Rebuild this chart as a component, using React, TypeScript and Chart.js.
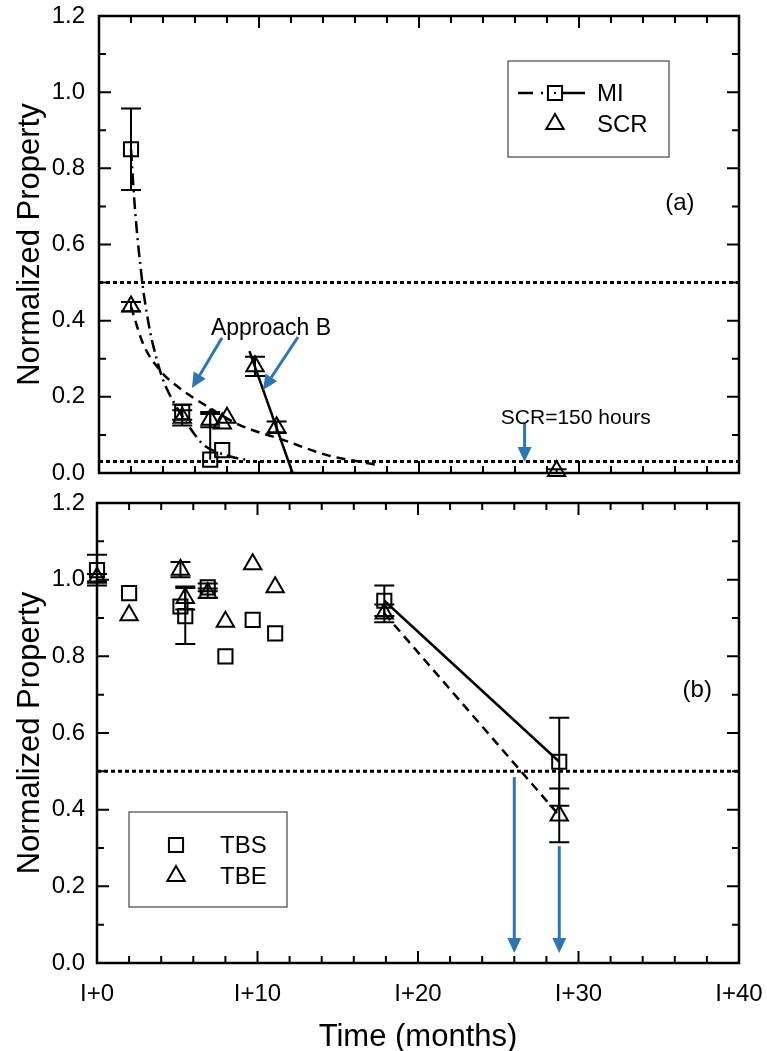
import React, { useEffect, useRef } from 'react';
import { Chart, registerables } from 'chart.js';

Chart.register(...registerables);

const FONT = "'Liberation Sans', Arial, Helvetica, sans-serif";
const BLUE = '#2E75B6';

// ---------- axis ----------
const X_MIN = 0;
const X_MAX = 40;
const X_LABEL_PREFIX = 'I+';
const Y_MIN = 0;
const Y_MAX = 1.2;

// ---------- panel (a) ----------
const miX = [2.0, 5.2, 6.95, 7.7];
const miY = [0.85, 0.16, 0.035, 0.06];
const miErrUp = [0.107, 0.02, 0.12, 0];
const miErrDown = [0.107, 0.02, 0, 0];

const scrX = [2.0, 5.2, 6.95, 7.7, 8.0, 9.75, 11.1, 28.6];
const scrY = [0.437, 0.145, 0.14, 0.13, 0.145, 0.28, 0.12, 0.005];
const scrErrUp = [0.012, 0.02, 0.02, 0.0, 0, 0.025, 0.015, 0.005];
const scrErrDown = [0.012, 0.02, 0.02, 0.0, 0, 0.025, 0.015, 0.005];

const miFitX = [2.0, 2.2, 2.4, 2.6, 2.8, 3.2, 3.6, 4.0, 4.75, 5.5, 6.0, 6.5, 7.5, 8.5, 9.3];
const miFitY = [0.85, 0.72, 0.62, 0.54, 0.47, 0.37, 0.30, 0.245, 0.18, 0.13, 0.10, 0.075, 0.053, 0.04, 0.034];

const scrFitX = [2.0, 2.75, 3.8, 5.06, 6.8, 8.8, 11.5, 14.25, 16.75, 17.5];
const scrFitY = [0.437, 0.34, 0.27, 0.222, 0.174, 0.126, 0.087, 0.047, 0.026, 0.02];

const approachBX = [9.4, 12.1];
const approachBY = [0.32, 0.0];

const thresholdsA = [0.5, 0.03];

// ---------- panel (b) ----------
const tbsX = [0, 2.0, 5.2, 5.5, 6.9, 8.0, 9.7, 11.1, 17.9, 28.8];
const tbsY = [1.025, 0.965, 0.93, 0.905, 0.98, 0.80, 0.895, 0.86, 0.945, 0.525];
const tbsErr = [0.04, 0, 0, 0.073, 0.01, 0, 0, 0, 0.04, 0.115];

const tbeX = [0, 2.0, 5.2, 5.5, 6.9, 8.0, 9.7, 11.1, 17.9, 28.8];
const tbeY = [1.005, 0.907, 1.026, 0.952, 0.965, 0.89, 1.04, 0.98, 0.912, 0.385];
const tbeErr = [0.01, 0, 0.02, 0.03, 0.012, 0, 0, 0, 0.023, 0.07];

const tbsTrendX = [17.9, 28.8];
const tbsTrendY = [0.945, 0.525];
const tbeTrendX = [17.9, 28.8];
const tbeTrendY = [0.912, 0.385];

const thresholdsB = [0.5];

// ---------- annotations (data coordinates) ----------
const arrowsA = [
  { from: [7.69, 0.355], to: [5.81, 0.223] },
  { from: [12.44, 0.357], to: [10.25, 0.218] },
  { from: [26.6, 0.131], to: [26.6, 0.029] },
];
const arrowsB = [
  { from: [26.0, 0.485], to: [26.0, 0.026] },
  { from: [28.8, 0.305], to: [28.8, 0.026] },
];
const textsA = [
  { text: 'Approach B', at: [10.75, 0.38], size: 23 },
  { text: 'SCR=150 hours', at: [29.8, 0.144], size: 21 },
  { text: '(a)', at: [36.3, 0.709], size: 24 },
];
const textsB = [{ text: '(b)', at: [37.4, 0.712], size: 24 }];

const zip = (xs: number[], ys: number[]) => xs.map((x, i) => ({ x, y: ys[i] }));

function drawMarker(ctx: CanvasRenderingContext2D, style: string, x: number, y: number, r: number) {
  ctx.beginPath();
  if (style === 'rect') {
    const s = Math.SQRT1_2 * r;
    ctx.rect(x - s, y - s, 2 * s, 2 * s);
  } else {
    ctx.moveTo(x, y - r);
    ctx.lineTo(x + Math.sin(Math.PI * 2 / 3) * r, y - Math.cos(Math.PI * 2 / 3) * r);
    ctx.lineTo(x + Math.sin(Math.PI * 4 / 3) * r, y - Math.cos(Math.PI * 4 / 3) * r);
    ctx.closePath();
  }
  ctx.stroke();
}

function framePlugin() {
  return {
    id: 'frame',
    beforeDatasetsDraw(chart: any) {
      const { ctx, chartArea: a, scales } = chart;
      const xs = scales.x;
      const ys = scales.y;
      ctx.save();
      ctx.strokeStyle = '#000';
      ctx.lineWidth = 2.5;
      ctx.strokeRect(a.left, a.top, a.right - a.left, a.bottom - a.top);
      ctx.lineWidth = 2;
      ctx.beginPath();
      for (let v = X_MIN; v <= X_MAX; v += 2) {
        const px = xs.getPixelForValue(v);
        const len = v % 10 === 0 ? 12 : 7;
        ctx.moveTo(px, a.bottom);
        ctx.lineTo(px, a.bottom - len);
        ctx.moveTo(px, a.top);
        ctx.lineTo(px, a.top + len);
      }
      for (let i = 0; i <= 12; i++) {
        const py = ys.getPixelForValue(i / 10);
        const len = i % 2 === 0 ? 12 : 7;
        ctx.moveTo(a.left, py);
        ctx.lineTo(a.left + len, py);
        ctx.moveTo(a.right, py);
        ctx.lineTo(a.right - len, py);
      }
      ctx.stroke();
      ctx.restore();
    },
  };
}

function errorBarPlugin(sets: { x: number[]; y: number[]; up: number[]; down: number[] }[]) {
  return {
    id: 'errbars',
    afterDatasetsDraw(chart: any) {
      const { ctx, scales } = chart;
      const xs = scales.x;
      const ys = scales.y;
      ctx.save();
      ctx.strokeStyle = '#000';
      ctx.lineWidth = 2;
      sets.forEach((s) =>
        s.x.forEach((xv, i) => {
          const u = s.up[i];
          const d = s.down[i];
          if (!u && !d) return;
          const px = xs.getPixelForValue(xv);
          const pt = ys.getPixelForValue(s.y[i] + u);
          const pb = ys.getPixelForValue(s.y[i] - d);
          ctx.beginPath();
          ctx.moveTo(px, pt);
          ctx.lineTo(px, pb);
          if (u) {
            ctx.moveTo(px - 10, pt);
            ctx.lineTo(px + 10, pt);
          }
          if (d) {
            ctx.moveTo(px - 10, pb);
            ctx.lineTo(px + 10, pb);
          }
          ctx.stroke();
        })
      );
      ctx.restore();
    },
  };
}

function annotationPlugin(arrows: any[], texts: any[]) {
  return {
    id: 'annot',
    afterDatasetsDraw(chart: any) {
      const { ctx, scales } = chart;
      const xs = scales.x;
      const ys = scales.y;
      ctx.save();
      ctx.strokeStyle = BLUE;
      ctx.fillStyle = BLUE;
      ctx.lineWidth = 3;
      arrows.forEach((ar) => {
        const x0 = xs.getPixelForValue(ar.from[0]);
        const y0 = ys.getPixelForValue(ar.from[1]);
        const x1 = xs.getPixelForValue(ar.to[0]);
        const y1 = ys.getPixelForValue(ar.to[1]);
        const ang = Math.atan2(y1 - y0, x1 - x0);
        const hl = 15;
        const hw = 7;
        const bx = x1 - hl * Math.cos(ang);
        const by = y1 - hl * Math.sin(ang);
        ctx.beginPath();
        ctx.moveTo(x0, y0);
        ctx.lineTo(bx, by);
        ctx.stroke();
        ctx.beginPath();
        ctx.moveTo(x1, y1);
        ctx.lineTo(bx + hw * Math.sin(ang), by - hw * Math.cos(ang));
        ctx.lineTo(bx - hw * Math.sin(ang), by + hw * Math.cos(ang));
        ctx.closePath();
        ctx.fill();
      });
      ctx.fillStyle = '#000';
      ctx.textAlign = 'center';
      ctx.textBaseline = 'middle';
      texts.forEach((t) => {
        ctx.font = `${t.size}px ${FONT}`;
        ctx.fillText(t.text, xs.getPixelForValue(t.at[0]), ys.getPixelForValue(t.at[1]));
      });
      ctx.restore();
    },
  };
}

function legendPlugin(box: number[], items: { style: string; label: string; line?: boolean }[], rows: number[], markerX: number, textX: number) {
  return {
    id: 'customLegend',
    afterDraw(chart: any) {
      const { ctx } = chart;
      ctx.save();
      ctx.fillStyle = '#fff';
      ctx.fillRect(box[0], box[1], box[2] - box[0], box[3] - box[1]);
      ctx.strokeStyle = '#555';
      ctx.lineWidth = 1.3;
      ctx.strokeRect(box[0], box[1], box[2] - box[0], box[3] - box[1]);
      items.forEach((it, i) => {
        const y = rows[i];
        ctx.strokeStyle = '#000';
        ctx.lineWidth = 2;
        if (it.line) {
          ctx.lineWidth = 2.5;
          ctx.beginPath();
          ctx.moveTo(markerX - 37, y);
          ctx.lineTo(markerX - 22, y);
          ctx.moveTo(markerX - 14, y);
          ctx.lineTo(markerX - 12, y);
          ctx.moveTo(markerX + 8, y);
          ctx.lineTo(markerX + 30, y);
          ctx.stroke();
          ctx.fillStyle = '#000';
          ctx.fillRect(markerX - 1, y - 1, 2, 2);
          ctx.lineWidth = 2;
        }
        drawMarker(ctx, it.style, markerX, y, 10);
        ctx.fillStyle = '#000';
        ctx.font = `24px ${FONT}`;
        ctx.textAlign = 'left';
        ctx.textBaseline = 'middle';
        ctx.fillText(it.label, textX, y + 1);
      });
      ctx.restore();
    },
  };
}

function xTitlePlugin(text: string) {
  return {
    id: 'xtitle',
    afterDraw(chart: any) {
      const { ctx, chartArea: a } = chart;
      ctx.save();
      ctx.fillStyle = '#000';
      ctx.font = `31px ${FONT}`;
      ctx.textAlign = 'center';
      ctx.textBaseline = 'middle';
      ctx.fillText(text, (a.left + a.right) / 2, 547);
      ctx.restore();
    },
  };
}

const markerDataset = (label: string, xs: number[], ys: number[], style: string) => ({
  label,
  data: zip(xs, ys),
  showLine: false,
  pointStyle: style,
  pointRadius: 10,
  pointHoverRadius: 10,
  pointBorderWidth: 2,
  pointBorderColor: '#000',
  pointBackgroundColor: 'rgba(0,0,0,0)',
  borderColor: '#000',
  clip: false,
});

const lineDataset = (label: string, xs: number[], ys: number[], dash: number[], width = 2.5, smooth = false) => ({
  label,
  data: zip(xs, ys),
  showLine: true,
  pointRadius: 0,
  pointHoverRadius: 0,
  borderColor: '#000',
  borderWidth: width,
  borderDash: dash,
  cubicInterpolationMode: smooth ? 'monotone' : 'default',
  tension: 0,
  clip: false,
});

const thresholdDatasets = (vals: number[]) =>
  vals.map((v, i) => lineDataset(`threshold ${i}`, [X_MIN, X_MAX], [v, v], [4, 3], 3));

const yAxis = (width: number, pad: number) => ({
  type: 'linear',
  position: 'left',
  min: Y_MIN,
  max: Y_MAX,
  grid: { display: false, drawTicks: false },
  border: { display: false },
  ticks: {
    stepSize: 0.2,
    padding: pad,
    color: '#000',
    font: { family: FONT, size: 24, lineHeight: 1 },
    callback: (v: any) => Number(v).toFixed(1),
  },
  title: {
    display: true,
    text: 'Normalized Property',
    color: '#000',
    font: { family: FONT, size: 31 },
    padding: { top: 12, bottom: 0 },
  },
  afterFit: (s: any) => {
    s.width = width;
    s.paddingTop = 0;
    s.paddingBottom = 0;
  },
});

export default function App() {
  const topRef = useRef<HTMLCanvasElement>(null);
  const botRef = useRef<HTMLCanvasElement>(null);

  useEffect(() => {
    const top = new Chart(topRef.current as HTMLCanvasElement, {
      type: 'scatter',
      data: {
        datasets: [
          lineDataset('MI fit', miFitX, miFitY, [12, 5, 2, 5], 2.5, true),
          lineDataset('SCR fit', scrFitX, scrFitY, [9, 6], 2.5, true),
          lineDataset('Approach B', approachBX, approachBY, [], 2.5),
          ...thresholdDatasets(thresholdsA),
          markerDataset('MI', miX, miY, 'rect'),
          markerDataset('SCR', scrX, scrY, 'triangle'),
        ],
      } as any,
      options: {
        responsive: false,
        animation: false,
        devicePixelRatio: 1,
        events: [],
        layout: { padding: { left: 0, right: 28, top: 16, bottom: 17 } },
        plugins: { legend: { display: false }, tooltip: { enabled: false } },
        scales: {
          x: { type: 'linear', min: X_MIN, max: X_MAX, display: false },
          y: yAxis(99, 14),
        },
      } as any,
      plugins: [
        framePlugin(),
        errorBarPlugin([
          { x: miX, y: miY, up: miErrUp, down: miErrDown },
          { x: scrX, y: scrY, up: scrErrUp, down: scrErrDown },
        ]),
        annotationPlugin(arrowsA, textsA),
        legendPlugin(
          [508, 61, 669, 157],
          [
            { style: 'rect', label: 'MI', line: true },
            { style: 'triangle', label: 'SCR' },
          ],
          [93, 124],
          555,
          597
        ),
      ] as any,
    });

    const bottom = new Chart(botRef.current as HTMLCanvasElement, {
      type: 'scatter',
      data: {
        datasets: [
          lineDataset('TBS trend', tbsTrendX, tbsTrendY, [], 2.5),
          lineDataset('TBE trend', tbeTrendX, tbeTrendY, [9, 6], 2.5),
          ...thresholdDatasets(thresholdsB),
          markerDataset('TBS', tbsX, tbsY, 'rect'),
          markerDataset('TBE', tbeX, tbeY, 'triangle'),
        ],
      } as any,
      options: {
        responsive: false,
        animation: false,
        devicePixelRatio: 1,
        events: [],
        layout: { padding: { left: 0, right: 28, top: 13, bottom: 0 } },
        plugins: { legend: { display: false }, tooltip: { enabled: false } },
        scales: {
          x: {
            type: 'linear',
            min: X_MIN,
            max: X_MAX,
            grid: { display: false, drawTicks: false },
            border: { display: false },
            ticks: {
              stepSize: 10,
              autoSkip: false,
              maxRotation: 0,
              padding: 17,
              color: '#000',
              font: { family: FONT, size: 24 },
              callback: (v: any) => `${X_LABEL_PREFIX}${v}`,
            },
            afterFit: (s: any) => {
              s.height = 88;
              s.paddingLeft = 0;
              s.paddingRight = 0;
            },
          },
          y: yAxis(97, 12),
        },
      } as any,
      plugins: [
        framePlugin(),
        errorBarPlugin([
          { x: tbsX, y: tbsY, up: tbsErr, down: tbsErr },
          { x: tbeX, y: tbeY, up: tbeErr, down: tbeErr },
        ]),
        annotationPlugin(arrowsB, textsB),
        legendPlugin(
          [129, 322, 287, 417],
          [
            { style: 'rect', label: 'TBS' },
            { style: 'triangle', label: 'TBE' },
          ],
          [355, 386],
          176,
          220
        ),
        xTitlePlugin('Time (months)'),
      ] as any,
    });

    return () => {
      top.destroy();
      bottom.destroy();
    };
  }, []);

  return (
    <div style={{ position: 'absolute', left: 0, top: 0, width: 767, height: 1051, background: '#fff' }}>
      <canvas ref={topRef} width={767} height={490} style={{ position: 'absolute', left: 0, top: 0 }} />
      <canvas ref={botRef} width={767} height={561} style={{ position: 'absolute', left: 0, top: 490 }} />
    </div>
  );
}
